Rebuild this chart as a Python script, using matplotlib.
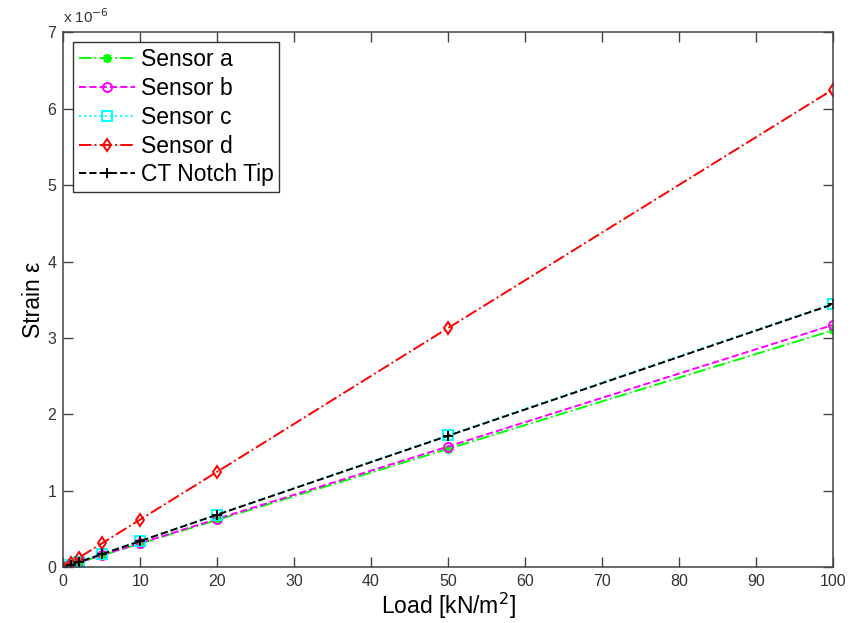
import numpy as np
import matplotlib
matplotlib.use("Agg")
import matplotlib.pyplot as plt

plt.rcParams.update({
    "font.family": ["Liberation Sans", "DejaVu Sans"],
    "axes.unicode_minus": False,
})

# applied load [kN/m^2]
load = [0, 1, 2, 5, 10, 20, 50, 100]

# strain values, in units of 1e-6
sensor_a = [0, 0.031, 0.062, 0.155, 0.31, 0.62, 1.55, 3.10]
sensor_b = [0, 0.032, 0.063, 0.158, 0.317, 0.633, 1.58, 3.17]
sensor_c = [0, 0.0345, 0.069, 0.173, 0.345, 0.69, 1.73, 3.45]
sensor_d = [0, 0.0625, 0.125, 0.312, 0.625, 1.25, 3.13, 6.25]
ct_tip = [0, 0.0344, 0.069, 0.172, 0.344, 0.688, 1.72, 3.44]

series = [
    ("Sensor a", sensor_a, dict(color="#00ff00", ls="-.", marker=(8, 2, 0), mfc="#00ff00")),
    ("Sensor b", sensor_b, dict(color="#ff00ff", ls="--", marker="o", mfc="none")),
    ("Sensor c", sensor_c, dict(color="#00ffff", ls=":", marker="s", mfc="none")),
    ("Sensor d", sensor_d, dict(color="#ff0000", ls="-.", marker="d", mfc="none")),
    ("CT Notch Tip", ct_tip, dict(color="black", ls="--", marker="+", mfc="none")),
]

fig = plt.figure(figsize=(8.54, 6.23), dpi=100)
ax = fig.add_axes([63.3 / 854, (623 - 567.3) / 623, (832.7 - 63.3) / 854, (567.3 - 32.3) / 623])

for name, vals, st in series:
    ax.plot(load, vals, label=name, lw=1.4, ms=6.5, mew=1.4, **st)

ax.set_xlim(0, 100)
ax.set_ylim(0, 7)
ax.set_xticks(np.arange(0, 101, 10))
ax.set_yticks(np.arange(0, 8, 1))

axis_col = "#444444"
for s in ax.spines.values():
    s.set_color(axis_col)
    s.set_linewidth(1.1)
ax.tick_params(direction="in", top=True, right=True, length=7, width=1.0,
               color=axis_col, labelsize=11.5, labelcolor="#333333", pad=5)

ax.set_xlabel("Load [kN/m$^2$]", fontsize=16.5, labelpad=1)
ax.set_ylabel("Strain ε", fontsize=16.5, labelpad=2)
ax.text(0.0, 1.012, "x 10$^{-6}$", transform=ax.transAxes, fontsize=11,
        color="#333333", ha="left", va="bottom")

leg = ax.legend(loc="upper left", fontsize=16.5, frameon=True, fancybox=False,
                handlelength=2.45, handletextpad=0.25, borderpad=0.25,
                labelspacing=0.26, borderaxespad=0.42)
leg.get_frame().set_edgecolor("black")
leg.get_frame().set_linewidth(1.0)

fig.savefig("out.png", dpi=100, facecolor="white")
